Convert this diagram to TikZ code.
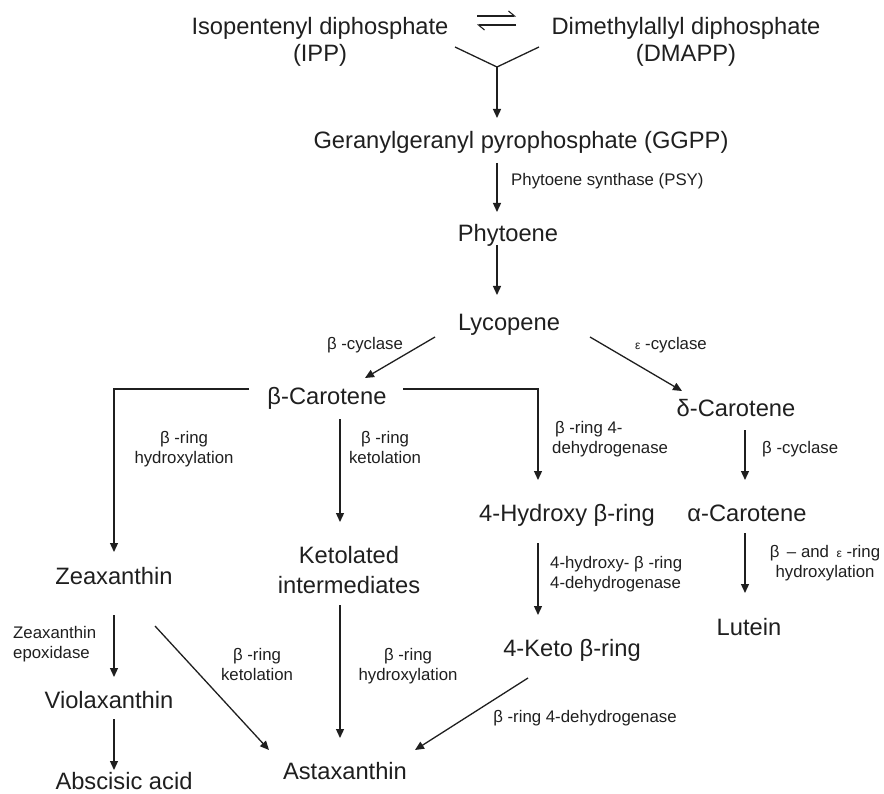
\documentclass[tikz,border=0pt]{standalone}
\usepackage{fontspec}
\setmainfont{Liberation Sans}
\usetikzlibrary{arrows.meta}
\begin{document}
\begin{tikzpicture}[x=1pt,y=-1pt,
  big/.style={inner sep=0pt,anchor=base,font=\fontsize{23.7}{27}\selectfont,text=black!88,align=center},
  lbl/.style={inner sep=0pt,anchor=base,font=\fontsize{16.8}{20}\selectfont,text=black!88,align=center},
  lbll/.style={lbl,anchor=base west,align=left},
  arr/.style={line width=1.3pt,draw=black!88,-{Triangle[length=9pt,width=8pt]}},
  ln/.style={line width=1.3pt,draw=black!88},
  harp/.style={line width=1.1pt,draw=black!88,-{Straight Barb[harpoon,length=6pt,width=10pt]}}]
\useasboundingbox (0,0) rectangle (884,794);

% main compounds (multi-line nodes: base = last line)
\node[big] (ipp) at (320,62) {Isopentenyl diphosphate\\(IPP)};
\node[big] (dmapp) at (686,62) {Dimethylallyl diphosphate\\(DMAPP)};
\node[big] (ggpp) at (521,149) {Geranylgeranyl pyrophosphate (GGPP)};
\node[big] (phyt) at (508,242) {Phytoene};
\node[big] (lyco) at (509,331) {Lycopene};
\node[big] (bcar) at (327,405) {β-Carotene};
\node[big] (dcar) at (736,417) {δ-Carotene};
\node[big] (hyd4) at (567,521) {4-Hydroxy β-ring};
\node[big] (acar) at (747,521) {α-Carotene};
\node[big,font=\fontsize{23.7}{30}\selectfont] (keto) at (349,593) {Ketolated\\intermediates};
\node[big] (zea) at (114,584) {Zeaxanthin};
\node[big] (lut) at (749,635) {Lutein};
\node[big] (keto4) at (572,656) {4-Keto β-ring};
\node[big] (viol) at (109,708) {Violaxanthin};
\node[big] (asta) at (345,779) {Astaxanthin};
\node[big] (absc) at (124,789) {Abscisic acid};

% enzyme labels
\node[lbll] (psy) at (511,186) {Phytoene synthase (PSY)};
\node[lbl] (bcyc1) at (365,350) {β -cyclase};
\node[lbll] (ecyc) at (635,350) {{\fontsize{12}{14}\selectfont ε} -cyclase};
\node[lbl] (bhyd1) at (184,463) {β -ring\\hydroxylation};
\node[lbl] (bket1) at (385,463) {β -ring\\ketolation};
\node[lbll] (bdeh1) at (552,453) {\,β -ring 4-\\dehydrogenase};
\node[lbll] (bcyc2) at (762,453) {β -cyclase};
\node[lbll] (hdeh) at (550,588) {4-hydroxy- β -ring\\4-dehydrogenase};
\node[lbl] (behyd) at (825,577) {β \,– and \,{\fontsize{12}{14}\selectfont ε} -ring\\hydroxylation};
\node[lbll] (zep) at (13,658) {Zeaxanthin\\epoxidase};
\node[lbl] (bket2) at (257,680) {β -ring\\ketolation};
\node[lbl] (bhyd2) at (408,680) {β -ring\\hydroxylation};
\node[lbl] (bdeh2) at (585,722) {β -ring 4-dehydrogenase};

% connector end points
\coordinate (eqa) at (477,16); \coordinate (eqb) at (516,16);
\coordinate (eqc) at (516,25); \coordinate (eqd) at (477,25);
\coordinate (fl) at (455,47); \coordinate (fj) at (497,67); \coordinate (fr) at (539,47);
\coordinate (ggppin) at (497,118);
\coordinate (ggppout) at (497,163); \coordinate (phytin) at (497,212);
\coordinate (phytout) at (497,245); \coordinate (lycoin) at (497,295);
\coordinate (lycol) at (435,337); \coordinate (bcarin) at (365,378);
\coordinate (lycor) at (590,337); \coordinate (dcarin) at (682,391);
\coordinate (bcarl) at (249,389); \coordinate (zeain) at (114,552);
\coordinate (bcarm) at (340,419); \coordinate (ketoin) at (340,522);
\coordinate (bcarr) at (403,389); \coordinate (hyd4in) at (538,480);
\coordinate (dcarout) at (745,430); \coordinate (acarin) at (745,480);
\coordinate (hyd4out) at (538,543); \coordinate (keto4in) at (538,615);
\coordinate (acarout) at (745,533); \coordinate (lutin) at (745,593);
\coordinate (keto4out) at (528,678); \coordinate (astar) at (415,750);
\coordinate (zeaout) at (114,615); \coordinate (violin) at (114,677);
\coordinate (violout) at (114,719); \coordinate (abscin) at (114,770);
\coordinate (zeadiag) at (155,626); \coordinate (astal) at (269,750);
\coordinate (ketoout) at (340,605); \coordinate (astam) at (340,738);

% connectors
\draw[harp] (eqa) -- (eqb);
\draw[harp] (eqc) -- (eqd);
\draw[ln] (fl) -- (fj) -- (fr);
\draw[arr] (fj) -- (ggppin);
\draw[arr] (ggppout) -- (phytin);
\draw[arr] (phytout) -- (lycoin);
\draw[arr] (lycol) -- (bcarin);
\draw[arr] (lycor) -- (dcarin);
\draw[arr] (bcarl) -| (zeain);
\draw[arr] (bcarm) -- (ketoin);
\draw[arr] (bcarr) -| (hyd4in);
\draw[arr] (dcarout) -- (acarin);
\draw[arr] (hyd4out) -- (keto4in);
\draw[arr] (acarout) -- (lutin);
\draw[arr] (keto4out) -- (astar);
\draw[arr] (zeaout) -- (violin);
\draw[arr] (violout) -- (abscin);
\draw[arr] (zeadiag) -- (astal);
\draw[arr] (ketoout) -- (astam);
\end{tikzpicture}
\end{document}
